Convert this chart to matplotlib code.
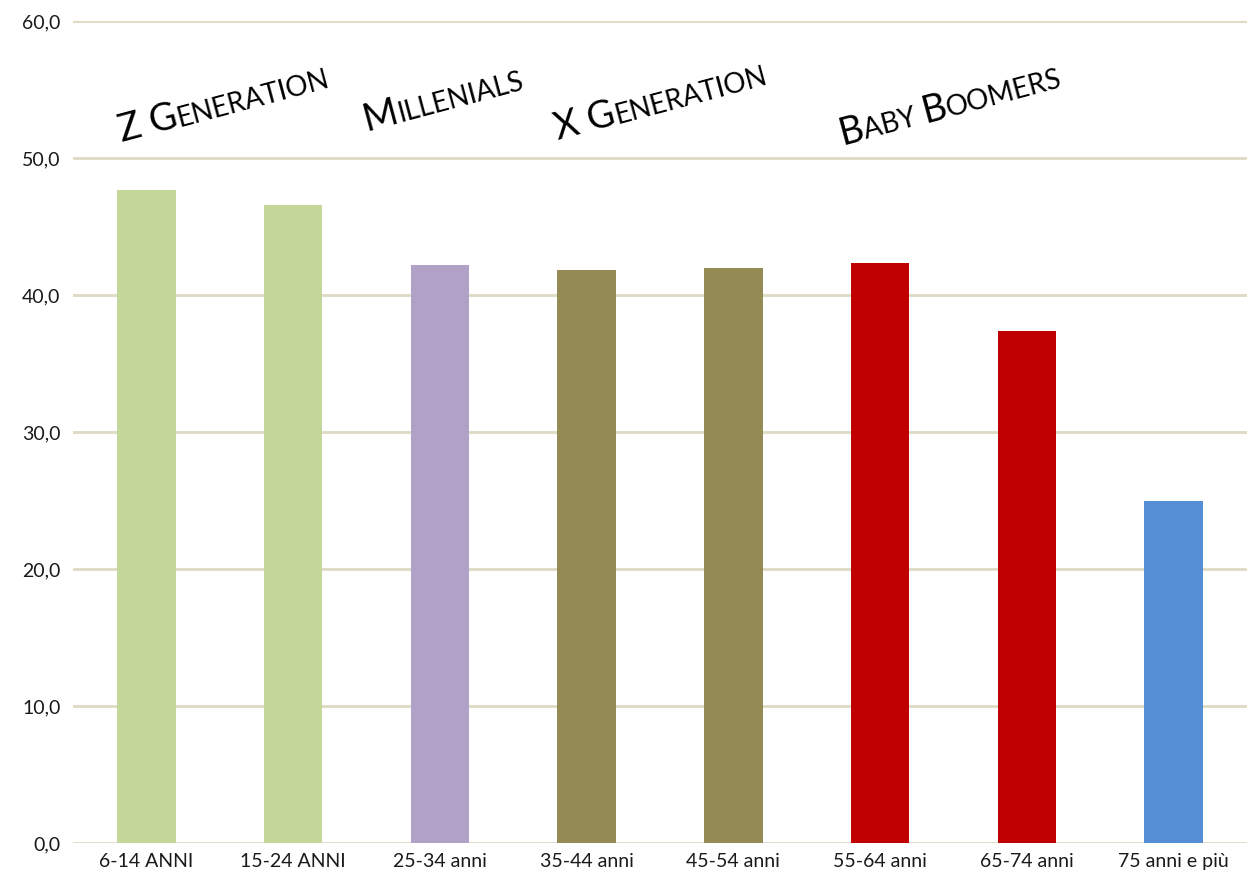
import matplotlib
matplotlib.use("Agg")
import matplotlib.pyplot as plt
import numpy as np

categories = ["6-14 ANNI", "15-24 ANNI", "25-34 anni", "35-44 anni",
              "45-54 anni", "55-64 anni", "65-74 anni", "75 anni e più"]
values = [47.7, 46.6, 42.2, 41.8, 42.0, 42.3, 37.4, 25.0]
colors = ["#C4D79B", "#C4D79B", "#B2A1C7", "#948A54",
          "#948A54", "#C00000", "#C00000", "#558ED5"]
y_ticks = [0, 10, 20, 30, 40, 50, 60]

# generation labels as (piece, big?) lists
gen_labels = [
    [("Z G", True), ("ENERATION", False)],
    [("M", True), ("ILLENIALS", False)],
    [("X G", True), ("ENERATION", False)],
    [("B", True), ("ABY ", False), ("B", True), ("OOMERS", False)],
]
gen_pos_px = [(122, 142), (367, 131), (558, 140), (843, 145)]  # left baseline in px (from top)

plt.rcParams['font.family'] = ['Lato', 'DejaVu Sans']

W, H = 1247, 884
fig = plt.figure(figsize=(W / 100, H / 100), dpi=100)
ax = fig.add_axes([73 / W, 1 - 843 / H, 1 - 73 / W, (843 - 21) / H])

x = np.arange(len(categories))
ax.bar(x, values, width=0.4, color=colors, zorder=3)
ax.set_xlim(-0.5, len(categories) - 0.5)
ax.set_ylim(0, 60)
ax.set_yticks(y_ticks)
ax.set_yticklabels([f"{v:.1f}".replace(".", ",") for v in y_ticks], fontsize=14, color="#1a1a1a")
ax.set_xticks(x)
ax.set_xticklabels(categories, fontsize=14, color="#1a1a1a")
ax.tick_params(length=0, pad=7)
ax.tick_params(axis="y", pad=9)
ax.grid(axis="y", color="#DDD9C3", linewidth=2, zorder=0)
for s in ax.spines.values():
    s.set_visible(False)

fig.canvas.draw()
renderer = fig.canvas.get_renderer()

def text_width(s, size):
    t = fig.text(0, 0, s.replace(" ", "\u00a0"), fontsize=size)
    w = t.get_window_extent(renderer).width
    t.remove()
    return w

theta = 15.0
ct, st = np.cos(np.radians(theta)), np.sin(np.radians(theta))
big, small = 27, 20
for pieces, (px, py) in zip(gen_labels, gen_pos_px):
    cum = 0.0
    for s, is_big in pieces:
        size = big if is_big else small
        xx = px + cum * ct
        yy = (H - py) + cum * st
        fig.text(xx / W, yy / H, s.replace(" ", "\u00a0"), fontsize=size, rotation=theta,
                 rotation_mode="anchor", ha="left", va="baseline", color="black")
        cum += text_width(s, size)

fig.savefig("out.png", dpi=100)
